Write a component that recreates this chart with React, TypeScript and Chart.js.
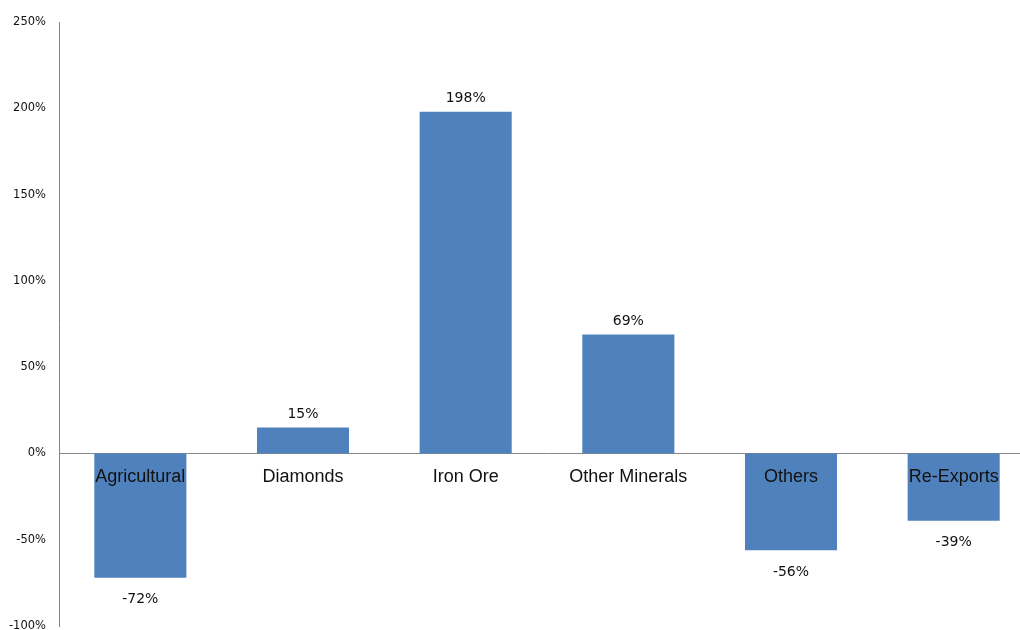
import React, { useEffect, useRef } from "react";
import { Chart, registerables } from "chart.js";

Chart.register(...registerables);

const categories = ["Agricultural", "Diamonds", "Iron Ore", "Other Minerals", "Others", "Re-Exports"];
const changeValues = [-72, 15, 198, 69, -56, -39];
const yTickMin = -100;
const yTickMax = 250;
const yTickStep = 50;

const BAR_COLOR = "#4F81BD";
const AXIS_COLOR = "#868686";

const valueLabelPlugin = {
  id: "valueLabels",
  afterDatasetsDraw(chart: any) {
    const ctx = chart.ctx;
    const meta = chart.getDatasetMeta(0);
    ctx.save();
    ctx.font = "14px 'DejaVu Sans'";
    ctx.fillStyle = "#111111";
    ctx.textAlign = "center";
    ctx.textBaseline = "middle";
    meta.data.forEach((bar: any, i: number) => {
      const v = changeValues[i];
      const y = v >= 0 ? bar.y - 13 : bar.y + 22;
      ctx.fillText(v + "%", bar.x, y);
    });
    ctx.restore();
  },
};

export default function App() {
  const ref = useRef<HTMLCanvasElement | null>(null);

  useEffect(() => {
    if (!ref.current) return;
    const chart = new Chart(ref.current, {
      type: "bar",
      data: {
        labels: categories,
        datasets: [
          {
            data: changeValues,
            backgroundColor: BAR_COLOR,
            borderWidth: 0,
            barPercentage: 0.566,
            categoryPercentage: 1,
          },
        ],
      },
      options: {
        responsive: false,
        animation: false,
        devicePixelRatio: 1,
        layout: { padding: { top: 22, bottom: 13, left: 0, right: 5 } },
        plugins: { legend: { display: false }, tooltip: { enabled: false } },
        scales: {
          x: {
            position: { y: 0 } as any,
            grid: { display: false, drawTicks: false },
            border: { display: true, color: AXIS_COLOR, width: 1 },
            ticks: {
              z: 1,
              font: { family: "'Liberation Sans'", size: 18 },
              color: "#111111",
              padding: 13,
              maxRotation: 0,
            },
          },
          y: {
            min: yTickMin,
            max: yTickMax,
            grid: { display: false, drawTicks: false },
            border: { display: true, color: AXIS_COLOR, width: 1 },
            ticks: {
              stepSize: yTickStep,
              font: { family: "'DejaVu Sans'", size: 11.5 },
              color: "#111111",
              padding: 13,
              callback: (v: any) => v + "%",
            },
            afterFit(scale: any) {
              scale.width = 59;
            },
          },
        },
      },
      plugins: [valueLabelPlugin],
    });
    return () => chart.destroy();
  }, []);

  return (
    <div style={{ position: "fixed", left: 0, top: 0, width: 1020, height: 630, overflow: "hidden", background: "#fff" }}>
      <canvas ref={ref} width={1040} height={646} style={{ display: "block" }} />
    </div>
  );
}
